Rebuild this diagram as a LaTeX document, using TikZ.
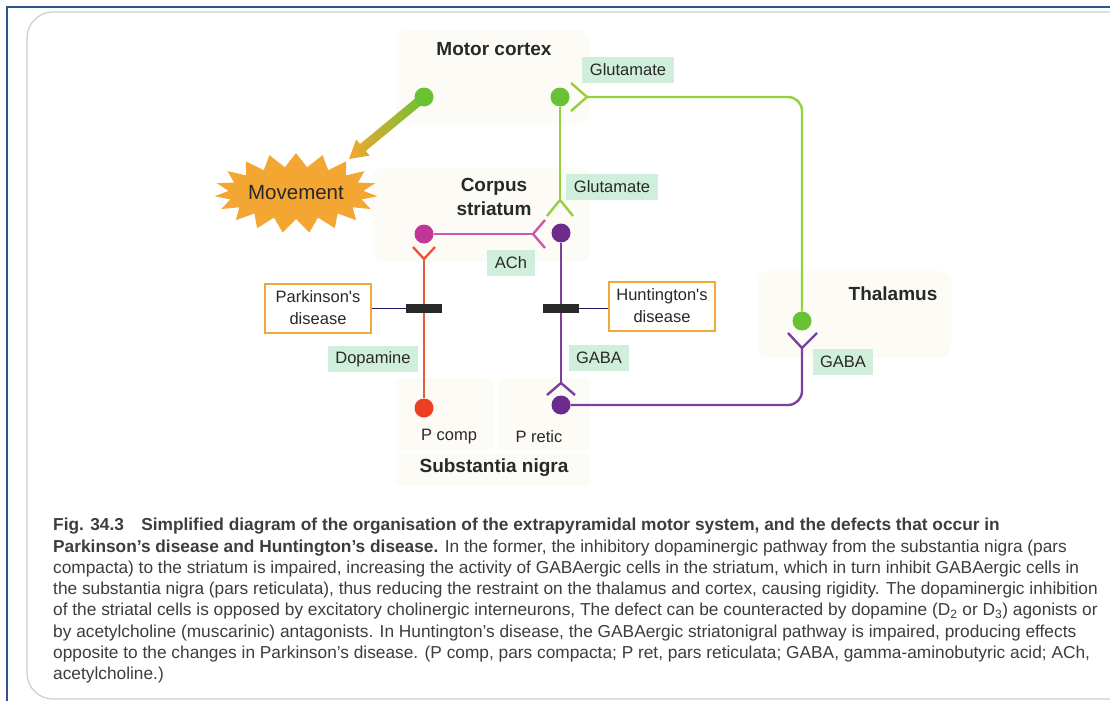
\documentclass[tikz,border=0pt]{standalone}
\usepackage{fontspec}
\setmainfont{Liberation Sans}
\usetikzlibrary{shapes.symbols,positioning,calc}
\definecolor{glucell}{RGB}{104,194,52}
\definecolor{gluline}{RGB}{150,208,64}
\definecolor{achcell}{RGB}{196,54,150}
\definecolor{achline}{RGB}{204,88,168}
\definecolor{gabacell}{RGB}{108,44,142}
\definecolor{gabaline}{RGB}{124,62,160}
\definecolor{dacell}{RGB}{238,62,36}
\definecolor{daline}{RGB}{234,88,58}
\definecolor{mint}{RGB}{208,238,220}
\definecolor{pdorange}{RGB}{242,168,56}
\definecolor{burstfill}{RGB}{244,166,50}
\definecolor{pale}{RGB}{253,251,246}
\definecolor{ink}{RGB}{40,40,40}
\definecolor{rim}{RGB}{44,84,142}
\definecolor{framegray}{RGB}{205,205,205}
\tikzset{
    cell/.style =   {circle,
                    draw=none,
                    inner sep=0pt,
                    minimum size=19pt},
    axon/.style =   {line width=2.4pt},
    nt/.style =     {rectangle,
                    fill=mint,
                    text=ink,
                    inner xsep=7.5pt,
                    minimum height=26pt,
                    font=\fontsize{16.5}{19}\selectfont},
    region/.style = {text=ink,
                    align=center,
                    font=\bfseries\fontsize{19}{24}\selectfont},
    sub/.style =    {text=ink,
                    font=\fontsize{16.5}{19}\selectfont},
    disease/.style = {rectangle,
                    fill=white,
                    draw=pdorange,
                    line width=2pt,
                    text=ink,
                    align=center,
                    minimum width=106pt,
                    minimum height=49pt,
                    font=\fontsize{16.5}{22}\selectfont},
    block/.style =  {rectangle,
                    fill=ink,
                    inner sep=0pt,
                    minimum width=36pt,
                    minimum height=9pt},
    burst/.style =  {starburst,
                    random starburst=0,
                    starburst points=19,
                    starburst point height=14pt,
                    fill=burstfill,
                    text=ink,
                    inner sep=0pt,
                    minimum width=155pt,
                    minimum height=80pt,
                    font=\fontsize{20.5}{24}\selectfont},
    tick/.style =   {line width=1pt,
                    draw=ink!70!blue},
    panel/.style =  {fill=pale,
                    rounded corners=12pt}}

\begin{document}
\begin{tikzpicture}[x=1pt,y=-1pt]
                \useasboundingbox (0,0) rectangle (1110,701);
                \fill[white] (0,0) rectangle (1110,701);
                \draw[framegray, line width=1.2pt, rounded corners=26pt] (27,12) rectangle (1200,699);
                \draw[rim, line width=2.6pt] (7,701) -- (7,7) -- (1110,7);
                \fill[panel] (396,30) rectangle (590,124);
                \fill[panel] (372,168) rectangle (590,262);
                \fill[panel] (757,271) rectangle (951,358);
                \fill[panel, rounded corners=4pt] (396,378) rectangle (493,450);
                \fill[panel, rounded corners=4pt] (498,378) rectangle (590,450);
                \fill[panel, rounded corners=4pt] (396,453) rectangle (590,486);

                \node[region]           (mc)    at (494,49)     {Motor cortex};
                \node[region]           (cs)    at (494,197)    {Corpus\\striatum};
                \node[region]           (th)    at (893,294)    {Thalamus};
                \node[region]           (sn)    at (494,468)    {Substantia nigra};
                \node[sub]              (pcomp) at (449,437)    {P comp};
                \node[sub]              (pret)  at (539,437)    {P retic};

                \node[burst]            (move)  at (296,193)    {Movement};
                \coordinate             (c1)    at (424,97);
                \coordinate             (mtip)  at (349,159);
                \coordinate             (mneck) at ($(mtip)!18pt!(c1)$);
                \shade[left color=burstfill, right color=glucell]
                        ($(c1)!4.5pt!90:(mtip)$) -- ($(mneck)!4.5pt!90:(mtip)$) -- ($(mneck)!10.5pt!90:(mtip)$)
                        -- (mtip) -- ($(mneck)!10.5pt!-90:(mtip)$) -- ($(mneck)!4.5pt!-90:(mtip)$)
                        -- ($(c1)!4.5pt!-90:(mtip)$) -- cycle;

                \node[cell, fill=glucell]   (ctx1)  at (c1)         {};
                \node[cell, fill=glucell]   (ctx2)  at (560,97)     {};
                \node[cell, fill=glucell]   (thal)  at (802,321)    {};
                \node[cell, fill=achcell]   (chol)  at (424,234)    {};
                \node[cell, fill=gabacell]  (sgaba) at (561,233)    {};
                \node[cell, fill=dacell]    (ncomp) at (424,408)    {};
                \node[cell, fill=gabacell]  (nret)  at (561,405)    {};

                \coordinate (ftc)   at (587,97);
                \coordinate (fglu)  at (560,200);
                \coordinate (fach)  at (533,234);
                \coordinate (fda)   at (424,259);
                \coordinate (fret)  at (561,383);
                \coordinate (fth)   at (802,348);

                \draw[axon, gluline] ($(ftc)+(-16,-14)$) -- (ftc) -- ($(ftc)+(-16,14)$);
                \draw[axon, gluline] ($(fglu)+(-13,16)$) -- (fglu) -- ($(fglu)+(13,16)$);
                \draw[axon, achline] ($(fach)+(12,-14)$) -- (fach) -- ($(fach)+(12,14)$);
                \draw[axon, daline] ($(fda)+(-11,-12)$) -- (fda) -- ($(fda)+(11,-12)$);
                \draw[axon, gabaline] ($(fret)+(-14,12)$) -- (fret) -- ($(fret)+(14,12)$);
                \draw[axon, gabaline] ($(fth)+(-14,-15)$) -- (fth) -- ($(fth)+(15,-15)$);

                \path [axon]    (ctx2) edge [gluline]       (fglu)
                                (chol) edge [achline]       (fach)
                                (ncomp) edge [daline]       (fda)
                                (sgaba) edge [gabaline]     (fret);
                \draw[axon, gluline, rounded corners=14pt] (thal) |- (ftc);
                \draw[axon, gabaline, rounded corners=14pt] (nret) -| (fth);

                \node[block]    (pbar)  at (424,308)    {};
                \node[block]    (hbar)  at (561,308)    {};
                \node[disease]  (pd)    at (318,308)    {Parkinson\textquotesingle s\\disease};
                \node[disease]  (hd)    at (662,306)    {Huntington\textquotesingle s\\disease};
                \path [tick]    (pd) edge (pbar)
                                (hbar) edge (hd.west |- hbar);

                \node[nt]       (glu1)  at (628,70)     {Glutamate};
                \node[nt]       (glu2)  at (612,187)    {Glutamate};
                \node[nt]       (ach)   at (511,263)    {ACh};
                \node[nt]       (dopa)  at (373,359)    {Dopamine};
                \node[nt]       (gaba1) at (599,358)    {GABA};
                \node[nt]       (gaba2) at (843,362)    {GABA};

                \node[anchor=north west, align=left, text=ink!90!white, inner sep=0pt,
                      font=\fontsize{17.3}{21.3}\selectfont] (cap) at (53,518)
                {\textbf{Fig. 34.3\quad Simplified diagram of the organisation of the extrapyramidal motor system, and the defects that occur in}\\
                \textbf{Parkinson’s disease and Huntington’s disease.} In the former, the inhibitory dopaminergic pathway from the substantia nigra (pars\\
                compacta) to the striatum is impaired, increasing the activity of GABAergic cells in the striatum, which in turn inhibit GABAergic cells in\\
                the substantia nigra (pars reticulata), thus reducing the restraint on the thalamus and cortex, causing rigidity. The dopaminergic inhibition\\
                of the striatal cells is opposed by excitatory cholinergic interneurons, The defect can be counteracted by dopamine (D\textsubscript{2} or D\textsubscript{3}) agonists or\\
                by acetylcholine (muscarinic) antagonists. In Huntington’s disease, the GABAergic striatonigral pathway is impaired, producing effects\\
                opposite to the changes in Parkinson’s disease. (P comp, pars compacta; P ret, pars reticulata; GABA, gamma-aminobutyric acid; ACh,\\
                acetylcholine.)};
        \end{tikzpicture}
\end{document}
